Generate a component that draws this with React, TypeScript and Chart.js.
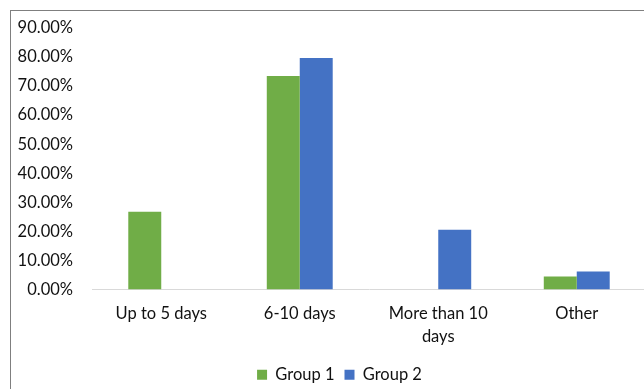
import React, { useEffect, useRef } from "react";
import { Chart, registerables } from "chart.js";

Chart.register(...registerables);

const categories: (string | string[])[] = ["Up to 5 days", "6-10 days", ["More than 10", "days"], "Other"];
const group1: (number | null)[] = [26.8, 73.5, null, 4.5];
const group2: (number | null)[] = [null, 79.7, 20.6, 6.2];
const seriesNames = ["Group 1", "Group 2"];
const yMax = 90;
const yStep = 10;

const FONT = "Lato, 'Liberation Sans', sans-serif";
const FS = 16.5;

const legendShift = {
  id: "legendShift",
  afterLayout(chart: any) {
    const lg = chart.legend;
    if (lg) {
      lg.left += 11;
      lg.right += 11;
    }
  },
};

export default function App() {
  const ref = useRef<HTMLCanvasElement | null>(null);

  useEffect(() => {
    document.body.style.margin = "0";
    const ctx = ref.current;
    if (!ctx) return;
    const chart = new Chart(ctx, {
      type: "bar",
      data: {
        labels: categories,
        datasets: [
          {
            label: seriesNames[0],
            data: group1,
            backgroundColor: "#70AD47",
            borderWidth: 0,
            categoryPercentage: 0.476,
            barPercentage: 1,
          },
          {
            label: seriesNames[1],
            data: group2,
            backgroundColor: "#4472C4",
            borderWidth: 0,
            categoryPercentage: 0.476,
            barPercentage: 1,
          },
        ],
      },
      plugins: [legendShift],
      options: {
        animation: false,
        responsive: false,
        maintainAspectRatio: false,
        layout: { padding: { left: 0, right: 24, top: 16, bottom: 0 } },
        plugins: {
          tooltip: { enabled: false },
          legend: {
            position: "bottom",
            labels: {
              boxWidth: 10,
              boxHeight: 10,
              padding: 10,
              color: "#111",
              font: { family: FONT, size: FS },
            },
          },
        },
        scales: {
          x: {
            grid: { display: false, drawTicks: false },
            border: { display: true, color: "#d9d9d9", width: 1 },
            ticks: {
              color: "#111",
              padding: 13,
              maxRotation: 0,
              autoSkip: false,
              font: { family: FONT, size: FS, lineHeight: 1.4 },
            },
            afterFit: (s: any) => {
              s.height = 67;
            },
          },
          y: {
            min: 0,
            max: yMax,
            grid: { display: false, drawTicks: true, tickLength: 16 },
            border: { display: false },
            ticks: {
              stepSize: yStep,
              padding: 3,
              color: "#111",
              font: { family: FONT, size: FS },
              callback: (v: any) => Number(v).toFixed(2) + "%",
            },
            afterFit: (s: any) => {
              s.width = 81;
            },
          },
        },
      },
    });
    return () => chart.destroy();
  }, []);

  return (
    <div style={{ position: "fixed", left: 0, top: 0, width: 644, height: 389, overflow: "hidden", background: "#fff" }}>
      <div
        style={{
          position: "absolute",
          left: 10,
          top: 10,
          width: 700,
          height: 400,
          borderLeft: "1px solid #7f7f7f",
          borderTop: "1px solid #7f7f7f",
        }}
      />
      <canvas
        ref={ref}
        width={659}
        height={381}
        style={{ position: "absolute", left: 11, top: 12, width: 659, height: 381 }}
      />
    </div>
  );
}
